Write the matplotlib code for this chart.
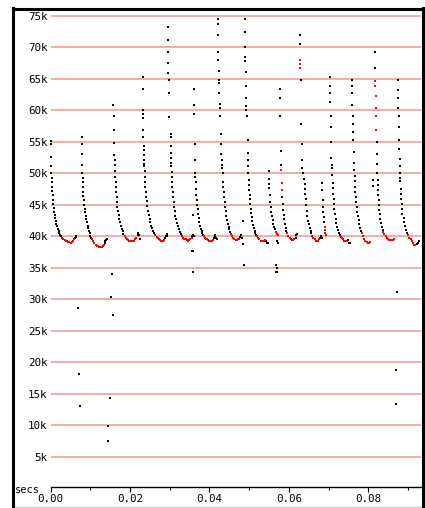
import matplotlib
matplotlib.use("Agg")
import matplotlib.pyplot as plt
from matplotlib.lines import Line2D
from matplotlib.ticker import MultipleLocator, FuncFormatter

# Samples as (time in ms, value in thousands), one row per pulse.
black_pts = [
    (0.05, 55.2), (0.08, 54.6), (0.1, 52.6), (0.15, 51.2), (0.2, 50.0), (0.25, 49.3), (0.3, 48.6), (0.35, 47.9), (0.45, 47.2), (0.5, 46.5), (0.6, 45.8), (0.7, 45.1), (0.8, 44.5), (0.9, 43.9), (1.0, 43.4), (1.15, 42.9), (1.3, 42.4), (1.45, 42.0), (1.6, 41.6), (1.8, 41.2), (2.0, 40.8), (2.2, 40.5), (2.45, 40.2), (2.7, 40.0), (6.1, 39.7), (6.3, 39.9), (6.5, 40.0),
    (7.8, 55.8), (7.85, 54.6), (7.9, 53.0), (7.95, 51.4), (8.0, 50.1), (8.05, 49.3), (8.1, 48.6), (8.15, 47.8), (8.2, 47.1), (8.25, 46.4), (8.35, 45.7), (8.45, 45.0), (8.55, 44.4), (8.7, 43.8), (8.85, 43.2), (9.0, 42.7), (9.15, 42.2), (9.3, 41.7), (9.45, 41.3), (9.6, 40.9), (9.8, 40.5), (10.0, 40.1), (10.2, 39.8), (13.6, 38.9), (13.8, 39.2), (14.0, 39.4), (14.2, 39.6),
    (15.8, 60.8), (15.85, 59.1), (15.9, 56.9), (16.0, 54.9), (16.05, 52.9), (16.1, 52.1), (16.15, 51.3), (16.2, 50.3), (16.3, 49.4), (16.35, 48.6), (16.4, 47.8), (16.5, 47.0), (16.6, 46.2), (16.7, 45.4), (16.8, 44.7), (16.95, 44.0), (17.1, 43.4), (17.3, 42.8), (17.5, 42.2), (17.7, 41.7), (17.9, 41.2), (18.1, 40.8), (18.3, 40.4), (21.9, 40.2), (22.1, 40.6), (22.3, 40.2), (22.5, 39.5),
    (23.2, 65.3), (23.2, 63.4), (23.2, 60.1), (23.3, 59.5), (23.3, 58.8), (23.3, 56.9), (23.3, 55.8), (23.4, 54.4), (23.4, 53.7), (23.45, 52.9), (23.5, 52.2), (23.55, 51.5), (23.6, 51.1), (23.65, 50.3), (23.7, 49.5), (23.75, 48.7), (23.85, 47.9), (23.95, 47.1), (24.05, 46.3), (24.2, 45.6), (24.35, 44.8), (24.5, 44.1), (24.7, 43.4), (24.9, 42.8), (25.1, 42.2), (25.3, 41.7), (25.5, 41.3), (25.8, 40.9), (26.1, 40.5), (28.8, 39.8), (29.0, 40.1), (29.2, 40.3), (29.4, 40.0),
    (29.6, 73.3), (29.6, 71.2), (29.6, 69.2), (29.6, 67.5), (29.6, 65.9), (29.9, 64.8), (29.9, 62.8), (29.9, 59.0), (30.2, 56.2), (30.2, 55.7), (30.2, 54.4), (30.2, 53.2), (30.25, 52.4), (30.3, 51.6), (30.3, 51.1), (30.5, 50.2), (30.55, 49.4), (30.6, 48.6), (30.65, 47.8), (30.75, 47.0), (30.85, 46.2), (30.95, 45.5), (31.1, 44.7), (31.25, 44.0), (31.4, 43.3), (31.6, 42.7), (31.8, 42.1), (32.0, 41.6), (32.3, 41.1), (32.6, 40.7), (32.9, 40.4), (35.7, 40.0), (35.9, 40.2), (36.1, 40.0),
    (36.2, 63.4), (36.2, 60.9), (36.2, 59.5), (36.4, 54.7), (36.4, 52.2), (36.4, 50.0), (36.45, 49.5), (36.5, 48.6), (36.6, 47.5), (36.7, 46.6), (36.8, 45.8), (36.9, 45.0), (37.0, 44.3), (37.1, 43.6), (37.25, 42.9), (37.4, 42.3), (37.6, 41.7), (37.8, 41.2), (38.0, 40.8), (38.2, 40.5), (38.3, 40.2), (41.1, 39.7), (41.3, 40.0), (41.4, 40.2), (41.6, 39.8), (41.8, 39.5),
    (42.1, 74.5), (42.1, 73.7), (42.1, 71.9), (42.1, 69.2), (42.1, 68.0), (42.4, 66.2), (42.4, 64.8), (42.4, 64.3), (42.4, 62.7), (42.7, 61.0), (42.7, 60.4), (42.7, 59.1), (42.9, 56.2), (42.9, 54.6), (42.9, 53.1), (43.2, 52.1), (43.2, 51.4), (43.2, 50.8), (43.3, 50.0), (43.4, 48.7), (43.5, 47.8), (43.6, 47.0), (43.7, 46.2), (43.8, 45.4), (43.9, 44.7), (44.05, 44.0), (44.2, 43.3), (44.4, 42.6), (44.6, 42.0), (44.8, 41.5), (45.0, 41.1), (45.2, 40.7), (47.8, 39.9), (48.0, 40.2), (48.1, 39.8),
    (48.9, 74.5), (48.9, 72.4), (48.9, 70.0), (48.9, 68.5), (48.9, 67.9), (49.2, 66.1), (49.2, 63.8), (49.2, 61.9), (49.3, 60.7), (49.3, 60.1), (49.4, 59.1), (49.6, 55.3), (49.6, 53.3), (49.6, 52.1), (49.6, 51.2), (49.8, 50.0), (49.9, 49.0), (50.0, 48.2), (50.05, 47.4), (50.1, 46.6), (50.2, 45.9), (50.3, 45.1), (50.4, 44.4), (50.5, 43.7), (50.65, 43.0), (50.8, 42.4), (51.0, 41.8), (51.2, 41.3), (51.4, 40.9), (51.6, 40.5), (51.8, 40.2), (54.3, 39.3), (54.5, 39.0), (54.7, 38.9),
    (54.9, 50.3), (55.0, 49.1), (55.05, 48.3), (55.1, 47.6), (55.2, 46.6), (55.3, 45.5), (55.4, 44.7), (55.55, 43.9), (55.7, 43.2), (55.9, 42.6), (56.1, 42.0), (56.3, 41.5), (56.5, 41.1), (57.0, 39.2), (57.3, 38.9),
    (57.8, 63.4), (57.8, 61.9), (57.85, 59.1), (58.0, 53.5), (58.0, 51.4), (58.4, 46.2), (58.5, 45.2), (58.6, 44.2), (58.7, 43.4), (58.8, 42.7), (59.0, 42.0), (59.2, 41.4), (59.4, 40.9), (61.7, 39.8), (61.9, 40.2), (62.1, 40.4),
    (62.9, 71.9), (62.9, 70.6), (63.1, 64.8), (63.1, 57.8), (63.3, 54.6), (63.3, 52.1), (63.3, 50.8), (63.6, 50.0), (63.9, 49.1), (63.95, 48.3), (64.0, 47.5), (64.1, 46.7), (64.2, 45.9), (64.4, 44.9), (64.5, 44.0), (64.7, 43.2), (64.9, 42.5), (65.1, 41.9), (65.3, 41.4), (65.5, 40.9), (65.7, 40.5), (67.9, 39.8), (68.1, 40.1), (68.3, 39.7),
    (68.3, 48.4), (68.4, 47.4), (68.5, 45.8), (68.55, 44.7), (68.65, 43.9), (68.75, 43.1), (68.85, 42.3),
    (70.4, 65.3), (70.4, 63.8), (70.4, 62.7), (70.4, 61.3), (70.65, 59.1), (70.65, 57.4), (70.65, 55.0), (70.65, 52.4), (70.9, 51.4), (70.9, 50.8), (71.0, 49.7), (71.1, 48.4), (71.15, 47.6), (71.2, 46.8), (71.3, 46.0), (71.35, 45.2), (71.45, 44.4), (71.6, 43.6), (71.8, 42.8), (72.0, 42.1), (72.2, 41.5), (72.4, 41.0), (72.6, 40.6), (72.8, 40.2), (75.0, 39.4), (75.2, 39.0), (75.4, 38.9),
    (76.0, 64.8), (76.0, 63.8), (76.0, 62.7), (76.0, 60.9), (76.25, 59.1), (76.25, 57.8), (76.25, 56.5), (76.25, 55.3), (76.4, 53.4), (76.4, 51.7), (76.5, 50.5), (76.6, 49.6), (76.65, 48.8), (76.7, 47.9), (76.75, 47.0), (76.9, 46.3), (77.0, 45.4), (77.1, 44.6), (77.2, 43.9), (77.4, 43.2), (77.6, 42.6), (77.8, 41.9), (78.0, 41.3), (78.2, 40.9),
    (81.7, 69.2), (81.7, 66.8), (81.2, 49.0), (81.2, 48.0), (82.2, 55.0), (82.1, 53.0), (82.1, 51.5), (82.3, 50.0), (82.35, 49.0), (82.4, 48.2), (82.45, 47.4), (82.5, 46.6), (82.6, 45.8), (82.7, 45.0), (82.8, 44.2), (82.9, 43.5), (83.0, 42.8), (83.2, 42.1), (83.4, 41.5), (83.6, 41.0),
    (87.6, 64.8), (87.6, 63.3), (87.6, 61.9), (87.6, 60.4), (87.75, 59.1), (87.75, 57.4), (87.75, 55.3), (87.75, 53.9), (87.9, 52.3), (87.9, 51.2), (88.0, 50.0), (88.0, 49.3), (88.05, 48.8), (88.3, 47.5), (88.3, 46.7), (88.35, 45.9), (88.4, 45.1), (88.5, 44.4), (88.6, 43.6), (88.9, 42.9), (89.1, 42.2), (89.3, 41.6), (89.5, 41.0), (89.7, 40.6), (92.2, 38.8), (92.5, 39.0), (92.8, 39.2),
]

red_pts = [
    (2.9, 39.8), (3.2, 39.6), (3.5, 39.4), (3.8, 39.3), (4.1, 39.2), (4.4, 39.1), (4.7, 39.1), (5.0, 39.0), (5.3, 39.1), (5.6, 39.3), (5.9, 39.5),
    (10.4, 39.5), (10.7, 39.2), (11.0, 38.9), (11.3, 38.7), (11.6, 38.5), (11.9, 38.4), (12.2, 38.3), (12.5, 38.3), (12.8, 38.3), (13.1, 38.4), (13.4, 38.6),
    (18.6, 40.1), (18.9, 39.8), (19.2, 39.6), (19.5, 39.4), (19.8, 39.3), (20.1, 39.2), (20.4, 39.2), (20.7, 39.2), (21.0, 39.3), (21.3, 39.5), (21.6, 39.7),
    (26.4, 40.2), (26.7, 39.9), (27.0, 39.7), (27.3, 39.5), (27.6, 39.4), (27.9, 39.3), (28.2, 39.3), (28.5, 39.4),
    (33.1, 40.1), (33.4, 39.8), (33.7, 39.6), (34.0, 39.5), (34.3, 39.4), (34.6, 39.3), (34.9, 39.4), (35.2, 39.6), (35.5, 39.8),
    (38.5, 40.0), (38.8, 39.8), (39.1, 39.6), (39.4, 39.5), (39.7, 39.4), (40.0, 39.3), (40.3, 39.3), (40.6, 39.3), (40.9, 39.4),
    (45.4, 40.4), (45.7, 40.1), (46.0, 39.8), (46.3, 39.6), (46.6, 39.4), (46.9, 39.4), (47.2, 39.5), (47.5, 39.6),
    (52.0, 40.0), (52.3, 39.7), (52.6, 39.5), (52.9, 39.3), (53.2, 39.2), (53.5, 39.2), (53.8, 39.3), (54.1, 39.4),
    (56.8, 40.7), (57.0, 40.4), (57.2, 40.2),
    (58.1, 50.5), (58.2, 48.4), (58.25, 47.4), (59.6, 40.5), (59.9, 40.1), (60.2, 39.8), (60.5, 39.6), (60.8, 39.4), (61.1, 39.4), (61.4, 39.5),
    (62.9, 68.0), (62.9, 67.4), (62.9, 66.8), (65.9, 40.1), (66.2, 39.8), (66.5, 39.5), (66.8, 39.3), (67.1, 39.2), (67.4, 39.3), (67.7, 39.5),
    (69.0, 41.5), (69.1, 41.0), (69.2, 40.6), (69.3, 40.2),
    (73.1, 39.9), (73.4, 39.7), (73.7, 39.5), (74.0, 39.3), (74.3, 39.2), (74.6, 39.3),
    (78.4, 40.5), (78.7, 40.0), (79.0, 39.6), (79.3, 39.3), (79.6, 39.1), (79.9, 39.0), (80.2, 39.0), (80.5, 39.1),
    (81.7, 64.7), (81.7, 63.8), (81.9, 62.3), (81.9, 60.4), (81.9, 59.1), (81.9, 56.9), (83.8, 40.7), (84.1, 40.3), (84.4, 40.0), (84.7, 39.7), (85.0, 39.5), (85.3, 39.4), (85.6, 39.4), (85.9, 39.4), (86.2, 39.4), (86.5, 39.5),
    (90.1, 40.2), (90.4, 39.8), (90.7, 39.5), (91.0, 39.2), (91.3, 38.9), (91.6, 38.7), (91.9, 38.6),
]

stray_pts = [
    (6.95, 28.6), (7.2, 18.1), (7.45, 13.0),
    (15.4, 34.0), (15.3, 30.4), (15.6, 27.5), (15.0, 14.4), (14.5, 9.9), (14.5, 7.5),
    (35.8, 43.4), (35.8, 37.7), (35.5, 37.6), (35.8, 34.4),
    (48.5, 42.4), (48.5, 38.8), (48.7, 35.4),
    (56.7, 35.4), (56.9, 35.0), (56.7, 34.4), (57.0, 34.4),
    (87.2, 31.1), (86.9, 18.7), (86.9, 13.3),
]

y_ticks = [5, 10, 15, 20, 25, 30, 35, 40, 45, 50, 55, 60, 65, 70, 75]
x_ticks = [0.00, 0.02, 0.04, 0.06, 0.08]

W, H = 425, 508
fig = plt.figure(figsize=(W / 100, H / 100), dpi=100)
fig.patch.set_facecolor("white")

left_px, right_px, top_px, bottom_px = 50.7, 421.0, 10.0, 487.0
ax = fig.add_axes([left_px / W, 1 - bottom_px / H,
                   (right_px - left_px) / W, (bottom_px - top_px) / H])
ax.set_facecolor("white")

mono = "DejaVu Sans Mono"


def unzip(pts):
    return [p[0] / 1000.0 for p in pts], [p[1] for p in pts]


# sample dots: black for ordinary samples, red for the flagged ones
for pts, col, size, z in ((black_pts, "#000000", 2.3, 3),
                          (stray_pts, "#000000", 2.3, 3),
                          (red_pts, "#ff0000", 3.0, 4)):
    xs, ys = unzip(pts)
    ax.scatter(xs, ys, s=size, marker="s", c=col, linewidths=0, zorder=z,
               clip_on=False, antialiased=False)

ax.set_xlim(0, 0.0933)
ax.set_ylim(0.19, 75.95)

for sp in ("left", "right", "top"):
    ax.spines[sp].set_visible(False)
ax.spines["bottom"].set_color("black")
ax.spines["bottom"].set_linewidth(1.0)

ax.set_yticks(y_ticks)
ax.yaxis.set_major_formatter(FuncFormatter(lambda v, p: f"{int(round(v))}k"))
ax.tick_params(axis="y", length=0, pad=2.2, labelsize=7.8)
ax.grid(axis="y", color="#f29c9c", linewidth=1.2, zorder=1)
ax.set_axisbelow(True)

ax.set_xticks(x_ticks)
ax.xaxis.set_minor_locator(MultipleLocator(0.01))
ax.xaxis.set_major_formatter(FuncFormatter(lambda v, p: f"{v:.2f}"))
ax.tick_params(axis="x", which="major", direction="out", length=3.8, width=0.8,
               pad=1.0, labelsize=7.8)
ax.tick_params(axis="x", which="minor", direction="out", length=1.8, width=0.8)

for lab in ax.get_xticklabels() + ax.get_yticklabels():
    lab.set_fontfamily(mono)

fig.text(14.5 / W, 1 - 490 / H, "secs", fontsize=7.5, family=mono,
         ha="left", va="center")

# outer frame
lw = 2.2
fig.add_artist(Line2D([13.5 / W, 13.5 / W], [1 - 508 / H, 1 - 8.0 / H],
                      color="black", linewidth=lw, transform=fig.transFigure))
fig.add_artist(Line2D([12.5 / W, 423.5 / W], [1 - 8.5 / H, 1 - 8.5 / H],
                      color="black", linewidth=lw, transform=fig.transFigure))
fig.add_artist(Line2D([422.5 / W, 422.5 / W], [1 - 506 / H, 1 - 8.0 / H],
                      color="black", linewidth=lw, transform=fig.transFigure))
fig.add_artist(Line2D([15 / W, 421 / W], [1 - 506.5 / H, 1 - 506.5 / H],
                      color="#c8c8c8", linewidth=0.8, transform=fig.transFigure))

fig.savefig("out.png", dpi=100, facecolor="white")
